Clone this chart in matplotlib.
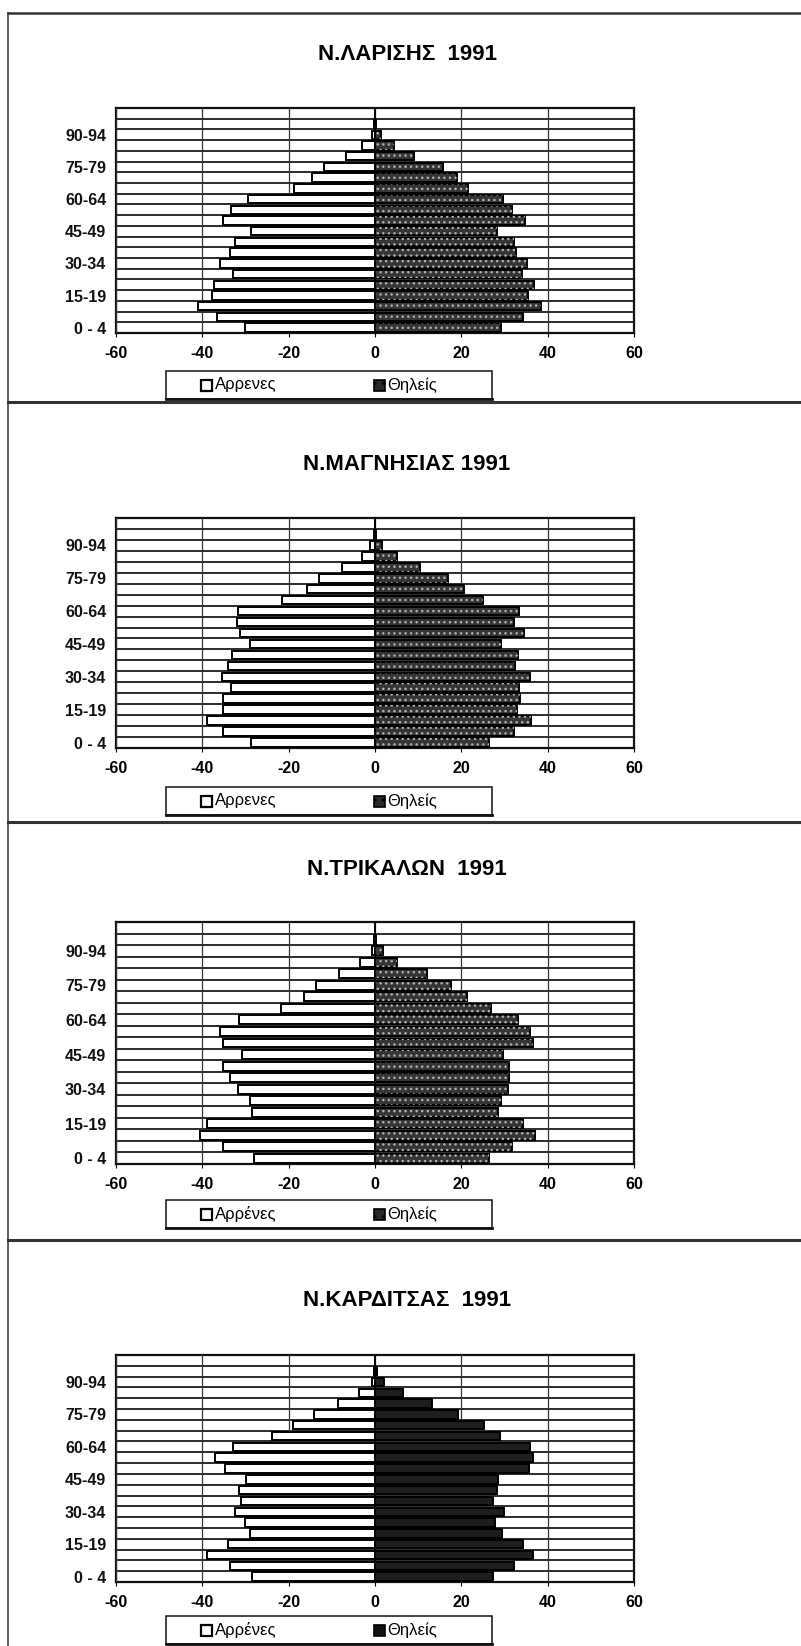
import numpy as np
import matplotlib
matplotlib.use("Agg")
import matplotlib.pyplot as plt
from matplotlib.patches import Rectangle
from matplotlib.lines import Line2D

plt.rcParams['font.family'] = ['Liberation Sans', 'DejaVu Sans']
plt.rcParams['hatch.linewidth'] = 1.0

# ---------------- data ----------------
age_groups = ['0 - 4', '5-9', '10-14', '15-19', '20-24', '25-29', '30-34', '35-39',
              '40-44', '45-49', '50-54', '55-59', '60-64', '65-69', '70-74', '75-79',
              '80-84', '85-89', '90-94', '95-99', '100+']
shown_ticks = ['0 - 4', '15-19', '30-34', '45-49', '60-64', '75-79', '90-94']
x_ticks = [-60, -40, -20, 0, 20, 40, 60]

titles = ['Ν.ΛΑΡΙΣΗΣ  1991', 'Ν.ΜΑΓΝΗΣΙΑΣ 1991', 'Ν.ΤΡΙΚΑΛΩΝ  1991', 'Ν.ΚΑΡΔΙΤΣΑΣ  1991']
male_names = ['Αρρενες', 'Αρρενες', 'Αρρένες', 'Αρρένες']
female_name = 'Θηλείς'

larisa_male = [30.1, 36.6, 41.0, 37.8, 37.3, 32.9, 35.9, 33.7, 32.5, 28.7, 35.1,
               33.3, 29.5, 18.8, 14.6, 11.9, 6.7, 2.9, 0.8, 0.2, 0.0]
larisa_female = [29.3, 34.2, 38.5, 35.5, 36.9, 34.0, 35.1, 32.6, 32.2, 28.3, 34.8,
                 31.7, 29.7, 21.5, 19.1, 15.8, 9.0, 4.3, 1.5, 0.3, 0.0]

magnesia_male = [28.7, 35.1, 38.9, 35.1, 35.3, 33.4, 35.5, 34.1, 33.2, 28.9, 31.2,
                 32.0, 31.8, 21.5, 15.8, 12.9, 7.6, 3.1, 1.2, 0.2, 0.0]
magnesia_female = [26.4, 32.1, 36.2, 32.9, 33.7, 33.3, 36.0, 32.5, 33.2, 29.2, 34.6,
                   32.1, 33.3, 25.1, 20.6, 17.0, 10.4, 5.2, 1.6, 0.3, 0.0]

trikala_male = [28.0, 35.2, 40.5, 39.0, 28.4, 28.9, 31.7, 33.6, 35.2, 30.7, 35.2,
                36.0, 31.5, 21.8, 16.5, 13.7, 8.3, 3.4, 0.7, 0.2, 0.0]
trikala_female = [26.5, 31.7, 37.0, 34.4, 28.6, 29.1, 30.7, 31.1, 31.1, 29.6, 36.6,
                  35.8, 33.1, 26.8, 21.4, 17.6, 12.0, 5.2, 1.9, 0.3, 0.0]

karditsa_male = [28.5, 33.6, 38.9, 34.0, 28.9, 30.2, 32.5, 31.1, 31.4, 29.9, 34.8,
                 37.0, 33.0, 23.9, 19.0, 14.1, 8.6, 3.7, 0.8, 0.2, 0.0]
karditsa_female = [27.3, 32.1, 36.7, 34.3, 29.5, 27.9, 29.9, 27.3, 28.3, 28.4, 35.7,
                   36.5, 35.9, 28.9, 25.2, 19.3, 13.1, 6.4, 2.2, 0.4, 0.0]

males = [larisa_male, magnesia_male, trikala_male, karditsa_male]
females = [larisa_female, magnesia_female, trikala_female, karditsa_female]

# ---------------- layout (pixels) ----------------
W, H = 801, 1646
fig = plt.figure(figsize=(W / 100, H / 100), dpi=100)

def fx(x):
    return x / W

def fy(y):
    return 1 - y / H

AX_L, AX_R = 116, 634
title_y = [55, 465, 869, 1300]
ax_top = [108, 518, 922, 1355]
ax_bot = [333, 748, 1164, 1582]
leg_top = [371, 787, 1200, 1616]
separators = [402, 822, 1240]

# frame lines
fig.add_artist(Line2D([fx(8), fx(8)], [fy(13), fy(1646)], color='#444', lw=1.2))
fig.add_artist(Line2D([fx(8), fx(801)], [fy(13), fy(13)], color='#333', lw=1.8))
for s in separators:
    fig.add_artist(Line2D([fx(8), fx(801)], [fy(s), fy(s)], color='#333', lw=2.2))

unit = (AX_R - AX_L) / 120.0

def px_of(v):
    return AX_L + (v + 60) * unit

for i in range(4):
    ax = fig.add_axes([fx(AX_L), fy(ax_bot[i]), fx(AX_R) - fx(AX_L),
                       (ax_bot[i] - ax_top[i]) / H])
    y = np.arange(len(age_groups))
    m = np.array(males[i])
    f = np.array(females[i])

    # category boundary lines
    for b in np.arange(len(age_groups) + 1) - 0.5:
        ax.axhline(b, color='#1a1a1a', lw=1.3, zorder=1)

    ax.barh(y, -m, height=0.78, color='white', edgecolor='black', lw=1.4, zorder=3)
    if i < 3:
        ax.barh(y, f, height=0.78, color='#353535', edgecolor='black', lw=1.4, zorder=3)
        ax.barh(y, f, height=0.78, color='none', edgecolor='#b0b0b0', hatch='...',
                lw=0, zorder=4)
    else:
        ax.barh(y, f, height=0.78, color='#1e1e1e', edgecolor='black', lw=1.4, zorder=3)

    ax.set_xlim(-60, 60)
    ax.set_ylim(-0.5, len(age_groups) - 0.5)
    ax.set_xticks(x_ticks)
    ax.set_xticklabels([str(t) for t in x_ticks], fontsize=11.5, fontweight='bold')
    ax.set_yticks([age_groups.index(t) for t in shown_ticks])
    ax.set_yticklabels(shown_ticks, fontsize=11.5, fontweight='bold', color='#111')
    ax.tick_params(axis='y', length=0, pad=7)
    ax.tick_params(axis='x', length=3, width=0.8, pad=6.3, direction='out')
    ax.grid(axis='x', color='#333', lw=0.9, zorder=2)
    ax.set_axisbelow(False)
    ax.axvline(0, color='black', lw=1.2, zorder=5)
    for sp in ax.spines.values():
        sp.set_linewidth(1.6)
        sp.set_color('#111')
    ax.set_facecolor('white')

    fig.text(fx(407), fy(title_y[i]), titles[i], ha='center', va='center',
             fontsize=16, fontweight='bold')

    # legend box
    lx0, lx1 = px_of(-48.5), px_of(27)
    ly0, ly1 = leg_top[i], leg_top[i] + 28
    fig.add_artist(Rectangle((fx(lx0), fy(ly1)), fx(lx1) - fx(lx0), (ly1 - ly0) / H,
                             transform=fig.transFigure, facecolor='white',
                             edgecolor='#111', lw=1.1))
    fig.add_artist(Line2D([fx(lx0), fx(lx1)], [fy(ly1), fy(ly1)], color='#111', lw=2.0))
    cy = (ly0 + ly1) / 2
    sq = 11
    mx = px_of(-39.0)
    fig.add_artist(Rectangle((fx(mx - sq / 2), fy(cy + sq / 2)), sq / W, sq / H,
                             transform=fig.transFigure, facecolor='white',
                             edgecolor='black', lw=1.6))
    fig.text(fx(mx + 8), fy(cy), male_names[i], ha='left', va='center', fontsize=12)
    fx2 = px_of(1.0)
    if i < 3:
        fig.add_artist(Rectangle((fx(fx2 - sq / 2), fy(cy + sq / 2)), sq / W, sq / H,
                                 transform=fig.transFigure, facecolor='#2a2a2a',
                                 edgecolor='black', lw=1.2, hatch='..'))
    else:
        fig.add_artist(Rectangle((fx(fx2 - sq / 2), fy(cy + sq / 2)), sq / W, sq / H,
                                 transform=fig.transFigure, facecolor='#111',
                                 edgecolor='black', lw=1.2))
    fig.text(fx(fx2 + 8), fy(cy), female_name, ha='left', va='center', fontsize=12)

fig.savefig('out.png', dpi=100, facecolor='white')
